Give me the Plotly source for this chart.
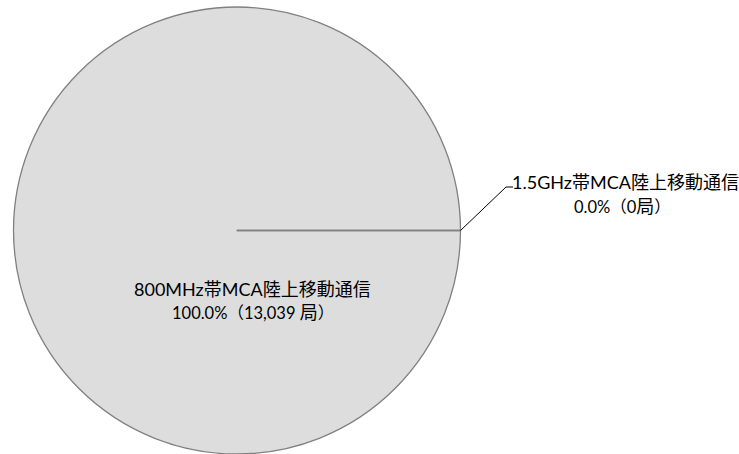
import plotly.graph_objects as go

# 周波数帯別の無線局数
systems = ["800MHz帯MCA陸上移動通信", "1.5GHz帯MCA陸上移動通信"]
stations = [13039, 0]
colors = ["#DDDDDD", "#DDDDDD"]

W, H = 739, 454
total = sum(stations)
shares = [v / total * 100 for v in stations]

# pie geometry in pixels
cx, cy, r = 237.0, 230.5, 223.5

def px(x):
    return x / W

def py(y):
    return 1 - y / H

fig = go.Figure(go.Pie(
    labels=systems,
    values=stations,
    marker=dict(colors=colors, line=dict(color="#808080", width=1.3)),
    sort=False,
    direction="counterclockwise",
    rotation=90,
    textinfo="none",
    hoverinfo="label+value+percent",
    showlegend=False,
    domain=dict(x=[px(cx - r), px(cx + r)], y=[py(cy + r), py(cy - r)]),
))

# slice boundary at 3 o'clock (zero-sized slice)
fig.add_shape(type="line", xref="paper", yref="paper",
              x0=px(cx), y0=py(cy), x1=px(cx + r), y1=py(cy),
              line=dict(color="#808080", width=1.6))

# leader line for the outside label
fig.add_shape(type="path", xref="paper", yref="paper",
              path=f"M {px(cx + r)} {py(cy)} L {px(506)} {py(187)} L {px(513)} {py(187)}",
              line=dict(color="#000000", width=1))

name_font = dict(family="Lato, 'Noto Sans CJK JP', sans-serif", size=18, color="#000000")
value_font = dict(family="Lato, 'Noto Sans CJK JP', sans-serif", size=16.5, color="#000000")

def value_line(share, count, sep):
    return f"{share:.1f}%（{count:,}{sep}<span style='font-size:18px'>局</span>）"

# label lines: (text, font, x centre, y centre) in pixels
label_lines = [
    (systems[0], name_font, 252, 289),
    (value_line(shares[0], stations[0], " "), value_font, 252.5, 311.5),
    (systems[1], name_font, 625, 181.5),
    (value_line(shares[1], stations[1], ""), value_font, 622, 206.5),
]
for text, f, x, y in label_lines:
    fig.add_annotation(xref="paper", yref="paper", x=px(x), y=py(y),
                       text=text, showarrow=False, font=f,
                       xanchor="center", yanchor="middle")

fig.update_layout(width=W, height=H, margin=dict(l=0, r=0, t=0, b=0),
                  paper_bgcolor="white", plot_bgcolor="white")

fig.write_html("out.html")
